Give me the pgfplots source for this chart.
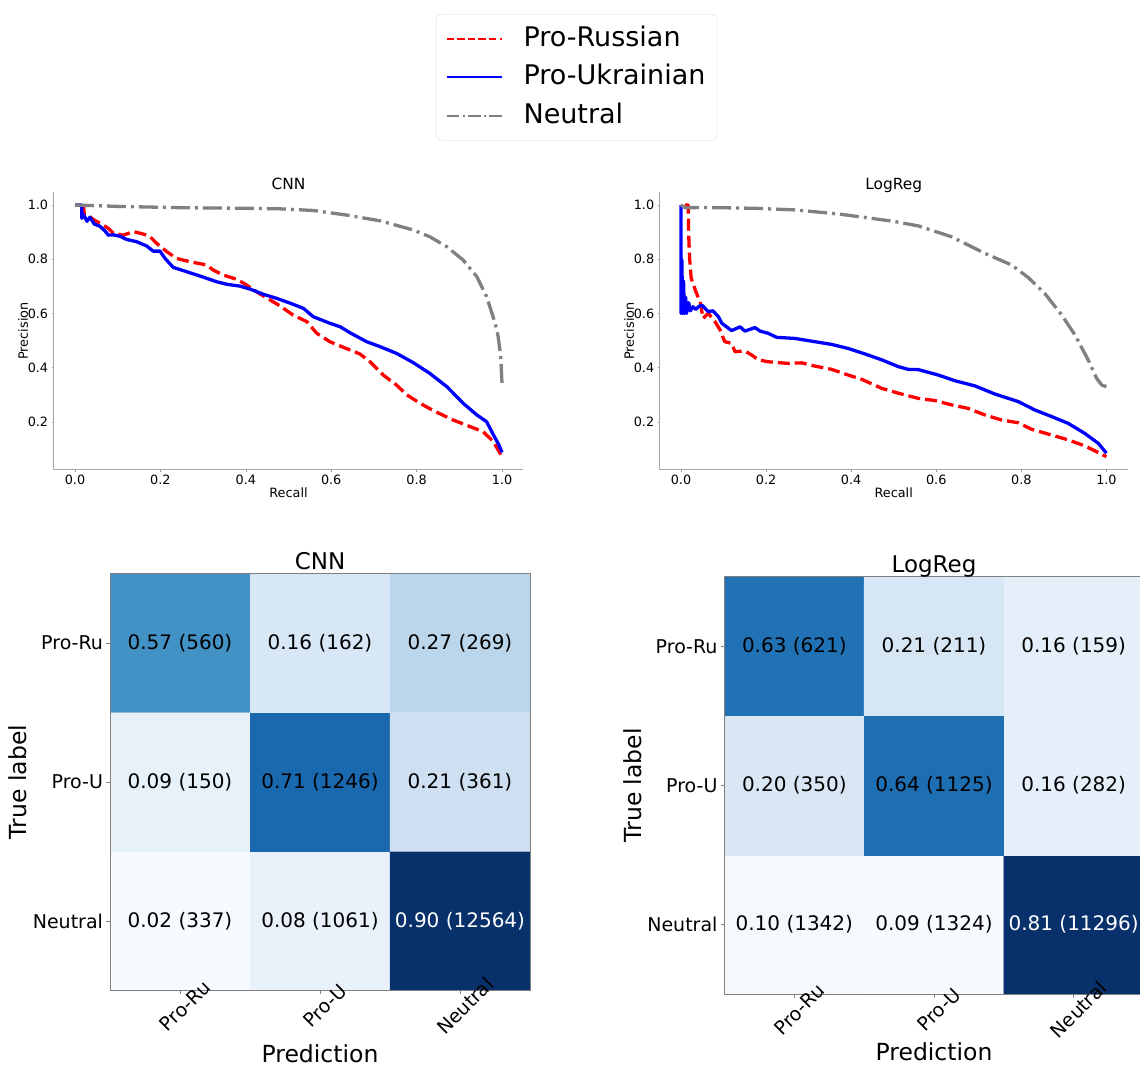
\documentclass[border=0pt]{standalone}
\usepackage{fontspec}
\setmainfont{DejaVu Sans}
\usepackage{pgfplots}
\pgfplotsset{compat=1.18}
\pgfplotsset{
  colormap={blues}{rgb255=(247,251,255) rgb255=(222,235,247) rgb255=(198,219,239) rgb255=(158,202,225) rgb255=(107,174,214) rgb255=(66,146,198) rgb255=(33,113,181) rgb255=(8,81,156) rgb255=(8,48,107)},
  prstyle/.style={
    scale only axis, width=469.7pt, height=277.4pt,
    xmin=-0.05, xmax=1.05, ymin=0.024, ymax=1.047,
    axis x line=bottom, axis y line=left,
    axis line style={-, black!35, line width=0.8pt},
    xtick={0,0.2,0.4,0.6,0.8,1.0}, ytick={0.2,0.4,0.6,0.8,1.0},
    major tick length=2pt, tick style={black!40, line width=0.6pt}, tick align=outside,
    /pgf/number format/assume math mode=true,
    /pgf/number format/.cd, fixed, fixed zerofill, precision=1, /pgfplots/.cd,
    ticklabel style={font=\fontsize{12.8}{15}\selectfont},
    title style={font=\fontsize{15.4}{18}\selectfont, at={(0.5,1)}, anchor=base, yshift=-3pt},
    xlabel style={font=\fontsize{12.8}{15}\selectfont, at={(axis description cs:0.5,0)}, anchor=center, yshift=-23.3pt},
    ylabel style={font=\fontsize{12.8}{15}\selectfont, at={(axis description cs:0,0.5)}, anchor=center, yshift=30.6pt},
    xlabel={Recall}, ylabel={Precision},
  },
  ru/.style={color=red, line width=3.3pt, dash pattern=on 12pt off 5pt, line join=round},
  ua/.style={color=blue, line width=3.3pt, line join=round},
  ne/.style={color=black!50, line width=3.3pt, dash pattern=on 19pt off 5pt on 3pt off 5pt, line join=round},
  cmstyle/.style={
    scale only axis, width=419pt, height=417pt,
    xmin=-0.5, xmax=2.5, ymin=-0.5, ymax=2.5,
    enlargelimits=false, axis on top,
    colormap name=blues,
    axis line style={black!50, line width=0.8pt},
    xtick={0,1,2}, ytick={0,1,2},
    xticklabels={Pro-Ru,Pro-U,Neutral}, yticklabels={Neutral,Pro-U,Pro-Ru},
    xtick pos=left, ytick pos=left, tick align=outside,
    major tick length=3.5pt, tick style={black!50, line width=0.6pt},
    yticklabel style={font=\fontsize{19}{23}\selectfont},
    xticklabel style={font=\fontsize{19}{23}\selectfont, xshift=5pt, yshift=-12pt, rotate=45, anchor=center},
    title style={font=\fontsize{23}{28}\selectfont, at={(0.5,1)}, anchor=base, yshift=-2pt},
    xlabel style={font=\fontsize{23.5}{28}\selectfont, at={(axis description cs:0.5,0)}, anchor=base},
    ylabel style={font=\fontsize{23.5}{28}\selectfont, at={(axis description cs:0,0.5)}, anchor=center, yshift=92pt},
    xlabel={Prediction}, ylabel={True label},
  },
  celltext/.style={draw=none, mark=none, point meta=explicit symbolic, nodes near coords,
    nodes near coords style={anchor=center, font=\fontsize{20}{24}\selectfont, text=#1}},
}
\begin{document}
\begin{tikzpicture}[x=1pt,y=1pt]
\useasboundingbox (0,0) rectangle (1140,1065);

% ---------------- PR curve: CNN ----------------
\begin{axis}[prstyle, at={(53.65pt,595.3pt)}, anchor=south west, title={CNN},
  legend image code/.code={\draw[#1] (0pt,0pt) -- (55pt,0pt); \path (0pt,-11pt);},
  legend style={at={(1.1132,1.6427)}, anchor=north, font=\fontsize{27}{32}\selectfont,
    draw=black!15, rounded corners=5pt, fill=white, inner xsep=9.5pt, inner ysep=10pt,
    row sep=9.5pt, /tikz/every odd column/.append style={column sep=19pt},
    nodes={inner sep=2pt, text height=20pt, text depth=5pt}},
  legend cell align=left]
\addlegendimage{color=red, line width=2pt, dash pattern=on 7.4pt off 3.2pt}
\addlegendentry{Pro-Russian}
\addlegendimage{color=blue, line width=2pt}
\addlegendentry{Pro-Ukrainian}
\addlegendimage{color=black!50, line width=2pt, dash pattern=on 12.8pt off 3.2pt on 2pt off 3.2pt}
\addlegendentry{Neutral}
\addplot[ru, forget plot] coordinates {
(0.02,1.0) (0.022,0.96) (0.031,0.963) (0.04,0.95) (0.05,0.94) (0.066,0.926) (0.078,0.914) (0.09,0.896) (0.113,0.889) (0.137,0.902) (0.160,0.893) (0.176,0.883) (0.191,0.859) (0.215,0.828) (0.238,0.803) (0.269,0.791) (0.308,0.779) (0.324,0.760) (0.347,0.742) (0.379,0.726) (0.402,0.705) (0.425,0.680) (0.457,0.650) (0.480,0.628) (0.511,0.594) (0.543,0.570) (0.566,0.527) (0.597,0.496) (0.621,0.480) (0.667,0.451) (0.691,0.422) (0.722,0.373) (0.753,0.336) (0.777,0.300) (0.808,0.269) (0.839,0.242) (0.886,0.207) (0.925,0.183) (0.956,0.164) (0.980,0.127) (1.0,0.072)
};
\addplot[ua, forget plot] coordinates {
(0,1.0) (0.016,1.0) (0.016,0.951) (0.02,0.965) (0.028,0.94) (0.035,0.955) (0.045,0.93) (0.058,0.922) (0.07,0.905) (0.078,0.889) (0.09,0.89) (0.105,0.885) (0.121,0.873) (0.144,0.865) (0.168,0.849) (0.183,0.830) (0.199,0.830) (0.211,0.803) (0.230,0.770) (0.254,0.758) (0.293,0.738) (0.332,0.717) (0.355,0.708) (0.386,0.701) (0.41,0.690) (0.441,0.671) (0.472,0.656) (0.504,0.638) (0.535,0.619) (0.558,0.588) (0.597,0.564) (0.621,0.551) (0.644,0.529) (0.683,0.496) (0.714,0.478) (0.753,0.453) (0.792,0.419) (0.831,0.379) (0.871,0.330) (0.909,0.269) (0.941,0.226) (0.964,0.201) (0.980,0.152) (0.991,0.121) (1.0,0.088)
};
\addplot[ne, forget plot] coordinates {
(0,1.0) (0.1,0.995) (0.254,0.990) (0.40,0.988) (0.480,0.986) (0.558,0.980) (0.636,0.963) (0.714,0.942) (0.792,0.908) (0.831,0.883) (0.871,0.846) (0.909,0.797) (0.941,0.736) (0.964,0.662) (0.984,0.564) (0.991,0.515) (0.997,0.441) (1.0,0.343)
};
\end{axis}

% ---------------- PR curve: LogReg ----------------
\begin{axis}[prstyle, at={(659.7pt,595.3pt)}, anchor=south west, width=468pt, title={LogReg}]
\addplot[ru] coordinates {
(0.009,1.0) (0.017,1.0) (0.018,0.9) (0.02,0.81) (0.024,0.730) (0.031,0.699) (0.035,0.68) (0.045,0.643) (0.052,0.582) (0.064,0.601) (0.080,0.570) (0.092,0.539) (0.103,0.496) (0.119,0.490) (0.127,0.459) (0.150,0.462) (0.166,0.447) (0.182,0.429) (0.205,0.422) (0.252,0.416) (0.284,0.418) (0.315,0.406) (0.354,0.394) (0.393,0.373) (0.425,0.357) (0.472,0.324) (0.511,0.306) (0.558,0.287) (0.597,0.279) (0.636,0.263) (0.675,0.250) (0.714,0.226) (0.754,0.207) (0.793,0.197) (0.824,0.173) (0.871,0.152) (0.910,0.134) (0.949,0.112) (0.981,0.087) (1.0,0.072)
};
\addplot[ua] coordinates {
(0,1.0) (0,0.6) (0.002,0.8) (0.004,0.6) (0.006,0.72) (0.008,0.6) (0.011,0.66) (0.013,0.6) (0.018,0.64) (0.022,0.61) (0.028,0.625) (0.035,0.615) (0.041,0.625) (0.049,0.631) (0.064,0.607) (0.075,0.61) (0.088,0.588) (0.096,0.564) (0.119,0.537) (0.139,0.551) (0.150,0.535) (0.174,0.548) (0.186,0.535) (0.205,0.527) (0.225,0.512) (0.268,0.508) (0.315,0.496) (0.354,0.486) (0.393,0.471) (0.432,0.451) (0.472,0.429) (0.511,0.404) (0.534,0.394) (0.558,0.393) (0.605,0.373) (0.644,0.352) (0.691,0.333) (0.738,0.303) (0.793,0.275) (0.832,0.244) (0.871,0.220) (0.910,0.195) (0.949,0.158) (0.981,0.121) (1.0,0.085)
};
\addplot[ne] coordinates {
(0,1.0) (0.01,0.99) (0.056,0.991) (0.174,0.988) (0.268,0.982) (0.370,0.967) (0.448,0.951) (0.503,0.939) (0.558,0.923) (0.636,0.883) (0.714,0.822) (0.777,0.779) (0.816,0.733) (0.855,0.674) (0.895,0.594) (0.926,0.521) (0.957,0.429) (0.977,0.361) (0.989,0.336) (1.0,0.330)
};
\end{axis}

% ---------------- Confusion matrix: CNN ----------------
\begin{axis}[cmstyle, at={(110pt,74.5pt)}, anchor=south west, width=420pt, title={CNN},
  xlabel style={yshift=-72pt}]
\addplot[matrix plot*, mesh/cols=3, point meta=explicit] coordinates {
(0,0) [0.02] (1,0) [0.08] (2,0) [0.90]
(0,1) [0.09] (1,1) [0.71] (2,1) [0.21]
(0,2) [0.57] (1,2) [0.16] (2,2) [0.27]
};
\addplot[celltext=black] coordinates {
(0,0) [0.02 (337)] (1,0) [0.08 (1061)]
(0,1) [0.09 (150)] (1,1) [0.71 (1246)] (2,1) [0.21 (361)]
(0,2) [0.57 (560)] (1,2) [0.16 (162)] (2,2) [0.27 (269)]
};
\addplot[celltext=white] coordinates {(2,0) [0.90 (12564)]};
\end{axis}

% ---------------- Confusion matrix: LogReg ----------------
\begin{axis}[cmstyle, at={(724.5pt,71pt)}, anchor=south west, width=419pt, height=417.3pt, title={LogReg},
  xlabel style={yshift=-66pt}]
\addplot[matrix plot*, mesh/cols=3, point meta=explicit] coordinates {
(0,0) [0.10] (1,0) [0.09] (2,0) [0.81]
(0,1) [0.20] (1,1) [0.64] (2,1) [0.16]
(0,2) [0.63] (1,2) [0.21] (2,2) [0.16]
};
\addplot[celltext=black] coordinates {
(0,0) [0.10 (1342)] (1,0) [0.09 (1324)]
(0,1) [0.20 (350)] (1,1) [0.64 (1125)] (2,1) [0.16 (282)]
(0,2) [0.63 (621)] (1,2) [0.21 (211)] (2,2) [0.16 (159)]
};
\addplot[celltext=white] coordinates {(2,0) [0.81 (11296)]};
\end{axis}
\end{tikzpicture}
\end{document}
